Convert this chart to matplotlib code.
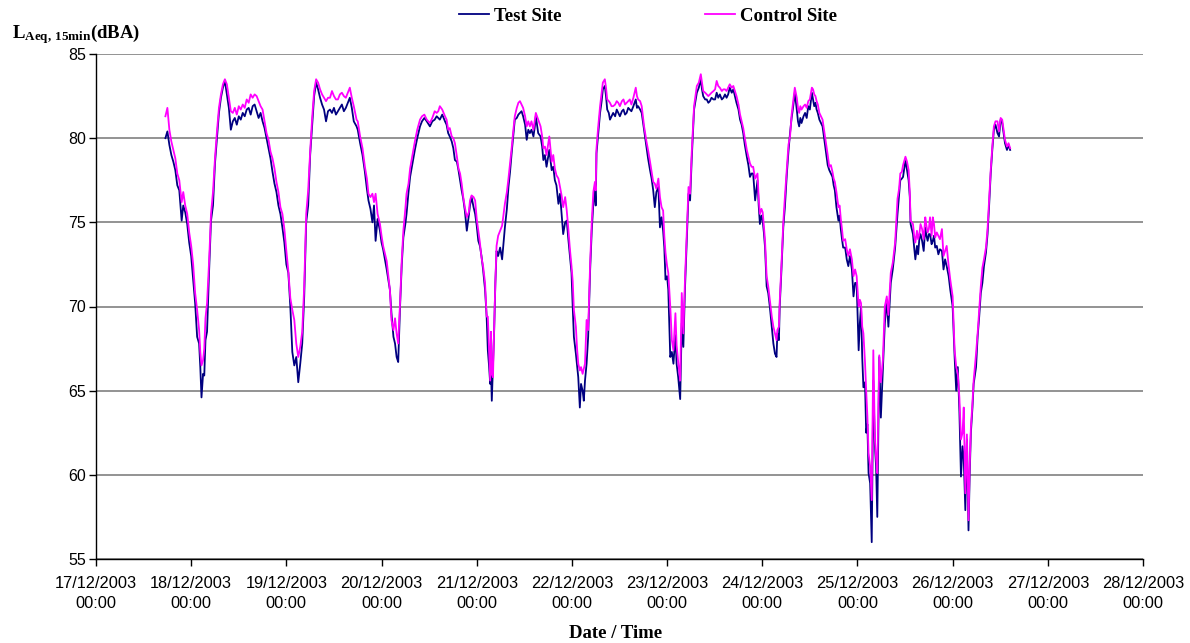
import matplotlib
matplotlib.use("Agg")
import matplotlib.pyplot as plt
import matplotlib.dates as mdates
from datetime import datetime, timedelta

# hours since 17/12/2003 00:00
hours = [
    17.5, 18.0, 18.5, 19.0, 19.5, 20.0, 20.5, 21.0, 21.6, 22.0, 22.5, 23.0, 23.5, 24.0, 24.5, 25.0, 25.5, 26.0, 26.3, 26.6,
    27.0, 27.3, 27.6, 28.0, 28.5, 29.0, 29.5, 30.0, 30.5, 31.0, 31.5, 32.0, 32.5, 33.0, 33.5, 34.0, 34.5, 35.0, 35.5, 36.0,
    36.5, 37.0, 37.5, 38.0, 38.5, 39.0, 39.5, 40.0, 40.5, 41.0, 41.5, 42.0, 42.5, 43.0, 43.5, 44.0, 44.5, 45.0, 45.5, 46.0,
    46.5, 47.0, 47.5, 48.0, 48.5, 49.0, 49.5, 50.0, 50.5, 51.0, 51.5, 52.0, 52.5, 53.0, 53.5, 54.0, 54.5, 55.0, 55.5, 56.0,
    56.5, 57.0, 57.5, 58.0, 58.5, 59.0, 59.5, 60.0, 60.5, 61.0, 61.5, 62.0, 62.5, 63.0, 63.5, 64.0, 64.5, 65.0, 65.7, 66.0,
    66.6, 67.2, 67.8, 68.3, 68.7, 69.2, 69.7, 70.1, 70.5, 71.0, 71.6, 72.0, 72.4, 73.3, 74.1, 74.5, 75.0, 75.4, 75.8, 76.2,
    76.7, 77.1, 77.5, 78.0, 78.3, 78.8, 79.2, 79.8, 80.4, 81.0, 81.7, 82.2, 82.8, 83.4, 84.2, 84.8, 85.4, 85.9, 86.3, 86.7,
    87.3, 88.0, 88.4, 88.8, 89.2, 89.7, 90.1, 90.5, 91.0, 91.4, 91.8, 92.2, 92.6, 93.0, 93.5, 94.0, 94.3, 94.7, 95.2, 95.6,
    96.0, 96.4, 96.8, 97.2, 97.6, 98.1, 98.5, 98.8, 99.1, 99.4, 99.6, 99.8, 100.1, 100.4, 100.7, 101.0, 101.4, 101.9, 102.4, 103.1,
    103.6, 104.0, 104.4, 104.8, 105.2, 105.6, 106.1, 106.5, 106.9, 107.3, 107.7, 108.2, 108.6, 109.0, 109.4, 109.8, 110.3, 110.6, 110.9, 111.2,
    111.5, 112.1, 112.5, 112.8, 113.2, 113.6, 114.3, 114.9, 115.3, 115.7, 116.1, 116.6, 117.0, 117.4, 117.8, 118.3, 118.7, 119.1, 119.5, 119.9,
    120.2, 120.5, 121.0, 121.3, 121.6, 122.0, 122.3, 122.7, 123.0, 123.3, 123.7, 124.1, 124.6, 125.0, 125.4, 125.8, 126.0, 126.2, 126.6, 127.1,
    127.5, 127.8, 128.3, 128.6, 128.9, 129.3, 129.6, 130.0, 130.4, 130.9, 131.3, 131.7, 132.1, 132.6, 133.0, 133.4, 133.8, 134.2, 134.6, 135.0,
    135.5, 136.1, 136.4, 136.7, 137.2, 137.6, 138.2, 138.8, 139.2, 139.7, 140.1, 140.5, 140.9, 141.3, 141.8, 142.2, 142.6, 143.0, 143.3, 143.6,
    144.0, 144.3, 144.8, 145.2, 145.6, 146.1, 146.4, 146.8, 147.3, 147.7, 148.1, 148.5, 148.9, 149.4, 149.8, 150.2, 150.8, 151.5, 152.0, 152.5,
    152.8, 153.1, 153.6, 154.0, 154.4, 154.8, 155.2, 155.7, 156.1, 156.5, 156.9, 157.3, 157.8, 158.2, 158.6, 159.0, 159.4, 159.8, 160.3, 160.7,
    161.1, 161.5, 162.0, 162.4, 162.8, 163.2, 163.6, 164.1, 164.5, 164.9, 165.3, 165.7, 166.2, 166.8, 167.1, 167.4, 167.8, 168.1, 168.4, 168.7,
    169.1, 169.5, 169.9, 170.4, 170.8, 171.2, 171.6, 171.8, 172.2, 172.4, 172.8, 173.3, 173.7, 174.2, 174.6, 175.0, 175.4, 175.7, 176.2, 176.7,
    177.0, 177.3, 177.6, 177.9, 178.4, 178.8, 179.2, 179.6, 180.0, 180.5, 180.8, 181.1, 181.4, 181.7, 182.0, 182.4, 182.8, 183.2, 183.7, 184.2,
    184.5, 184.9, 185.3, 185.7, 186.0, 186.3, 186.7, 187.2, 187.5, 187.8, 188.1, 188.4, 188.9, 189.3, 189.7, 190.1, 190.6, 191.0, 191.4, 191.8,
    192.3, 192.6, 192.9, 193.2, 193.5, 193.9, 194.2, 194.5, 194.8, 195.2, 195.6, 196.0, 196.4, 196.7, 197.0, 197.5, 197.9, 198.4, 198.9, 199.4,
    199.8, 200.4, 200.9, 201.5, 202.1, 202.5, 202.8, 203.2, 203.5, 204.1, 204.5, 204.9, 205.2, 205.4, 206.0, 206.3, 206.6, 207.0, 207.3, 207.6,
    207.9, 208.3, 208.7, 209.1, 209.4, 209.7, 210.0, 210.3, 210.7, 211.0, 211.3, 211.6, 212.0, 212.4, 212.8, 213.3, 213.7, 214.1, 214.5, 215.0,
    215.4, 216.0, 216.5, 216.9, 217.3, 217.7, 218.1, 218.5, 218.8, 219.2, 219.6, 220.0, 220.3, 220.6, 221.0, 221.3, 221.9, 222.3, 222.7, 223.1,
    223.5, 223.9, 224.4, 224.8, 225.2, 225.6, 226.0, 226.4, 226.8, 227.3, 227.7, 228.1, 228.5, 228.8, 229.2, 229.7, 230.1, 230.5,
]

test_site = [
    80.0, 80.4, 79.6, 79.0, 78.6, 78.1, 77.2, 76.9, 75.1, 76.0, 75.6, 74.9, 73.8, 73.0, 71.6, 70.2, 68.2, 67.8, 66.4, 64.6,
    66.0, 65.9, 68.0, 68.5, 72.0, 75.1, 76.0, 78.5, 80.0, 81.5, 82.4, 83.0, 83.4, 82.6, 81.8, 80.5, 81.0, 81.2, 80.8, 81.3,
    81.1, 81.5, 81.3, 81.7, 81.8, 81.4, 81.9, 82.0, 81.6, 81.2, 81.5, 81.0, 80.6, 80.0, 79.4, 78.8, 78.0, 77.3, 76.8, 76.0,
    75.5, 74.7, 73.8, 72.5, 72.0, 70.0, 67.3, 66.5, 67.0, 65.5, 66.6, 67.8, 70.6, 75.0, 76.0, 79.0, 80.8, 82.5, 83.3, 82.9,
    82.4, 82.0, 81.7, 81.0, 81.6, 81.7, 81.5, 81.8, 81.4, 81.6, 81.8, 82.0, 81.6, 81.8, 82.1, 82.4, 81.8, 81.0, 80.7, 80.5,
    79.7, 79.0, 78.0, 77.0, 76.3, 75.8, 75.0, 76.0, 73.9, 75.2, 74.5, 73.8, 73.4, 72.2, 71.0, 69.6, 68.2, 67.8, 67.0, 66.7,
    70.2, 72.5, 74.1, 74.9, 75.5, 76.8, 77.7, 78.5, 79.3, 80.0, 80.7, 81.0, 81.2, 81.0, 80.7, 81.0, 81.1, 81.3, 81.2, 81.1,
    81.4, 81.0, 80.8, 80.3, 80.1, 79.8, 79.4, 78.7, 78.6, 78.1, 77.5, 76.9, 76.4, 75.7, 74.5, 75.4, 76.0, 76.5, 75.9, 75.5,
    74.8, 73.9, 73.6, 73.0, 72.2, 71.0, 69.4, 67.4, 66.5, 65.4, 66.2, 64.4, 66.6, 68.6, 71.4, 73.3, 73.0, 73.5, 72.8, 74.7,
    75.8, 77.1, 78.0, 79.1, 80.1, 81.1, 81.2, 81.4, 81.5, 81.6, 81.3, 80.8, 79.9, 80.5, 80.3, 80.5, 80.1, 80.6, 81.3, 80.8,
    80.3, 80.1, 79.5, 78.7, 79.0, 78.3, 79.3, 78.1, 78.3, 77.5, 77.2, 76.1, 76.7, 75.5, 74.3, 75.0, 75.1, 74.0, 73.0, 72.0,
    70.0, 68.2, 67.2, 66.5, 65.8, 64.0, 65.4, 65.0, 64.4, 65.6, 66.6, 68.2, 72.2, 74.5, 76.1, 77.1, 76.0, 79.1, 80.2, 81.5,
    82.2, 82.9, 83.1, 82.5, 81.7, 81.5, 81.1, 81.3, 81.5, 81.3, 81.7, 81.5, 81.3, 81.6, 81.7, 81.4, 81.5, 81.8, 81.7, 81.6,
    81.9, 82.3, 81.8, 81.9, 81.7, 81.5, 80.5, 79.5, 78.8, 78.1, 77.6, 76.9, 75.9, 76.8, 77.1, 74.7, 75.3, 74.5, 73.5, 71.6,
    71.8, 71.0, 67.0, 67.3, 66.6, 68.3, 66.6, 65.8, 64.5, 69.0, 67.6, 71.0, 73.5, 76.7, 76.3, 78.7, 81.7, 82.7, 83.0, 83.5,
    82.9, 82.5, 82.3, 82.3, 82.1, 82.2, 82.4, 82.3, 82.3, 82.7, 82.4, 82.6, 82.3, 82.4, 82.6, 82.4, 82.6, 83.0, 82.7, 82.9,
    82.5, 82.1, 81.7, 81.1, 80.8, 80.3, 79.6, 78.9, 78.4, 77.7, 77.9, 77.9, 76.3, 77.5, 76.0, 74.9, 75.4, 75.1, 74.4, 73.5,
    71.2, 70.8, 70.0, 68.8, 67.8, 67.2, 67.0, 68.4, 68.0, 70.0, 72.0, 74.7, 75.9, 77.9, 79.2, 80.3, 81.2, 81.7, 82.7, 81.7,
    81.0, 80.7, 81.2, 80.9, 81.3, 81.5, 81.2, 81.9, 81.7, 82.7, 82.3, 81.9, 82.1, 81.7, 81.5, 81.1, 80.9, 80.7, 79.8, 78.9,
    78.4, 78.1, 77.9, 77.7, 77.2, 76.9, 75.9, 75.1, 75.4, 74.6, 74.0, 73.5, 73.5, 72.8, 72.4, 73.0, 72.2, 70.6, 71.4, 71.4,
    67.4, 69.0, 70.0, 67.0, 65.2, 65.5, 62.5, 63.0, 60.1, 59.5, 56.0, 65.6, 61.7, 60.5, 57.5, 67.0, 63.4, 66.2, 69.0, 70.4,
    68.8, 71.4, 72.2, 73.5, 75.5, 76.6, 77.5, 77.6, 77.7, 78.7, 78.1, 77.5, 76.5, 74.9, 74.3, 73.5, 72.8, 73.6, 73.1, 74.0,
    74.3, 73.9, 73.3, 74.7, 74.2, 73.9, 74.3, 74.3, 73.7, 73.9, 74.2, 73.5, 73.6, 73.1, 73.4, 73.3, 72.2, 72.8, 72.4, 71.8,
    71.0, 70.0, 67.0, 65.0, 66.4, 63.8, 59.9, 61.7, 61.0, 57.9, 62.1, 56.7, 60.0, 62.5, 64.0, 65.4, 66.4, 68.2, 69.4, 70.8,
    71.4, 72.4, 73.2, 74.3, 76.0, 77.9, 79.3, 80.5, 80.8, 80.3, 80.1, 81.1, 80.9, 80.4, 79.7, 79.3, 79.6, 79.3,
]

control_site = [
    81.3, 81.8, 80.5, 79.8, 79.3, 78.8, 77.9, 77.5, 76.2, 76.8, 76.0, 75.5, 74.4, 73.6, 72.5, 70.8, 69.8, 68.6, 67.3, 66.5,
    66.8, 67.5, 69.3, 70.2, 72.6, 75.5, 76.8, 78.8, 80.4, 81.8, 82.6, 83.2, 83.5, 83.2, 82.4, 81.6, 81.5, 81.8, 81.4, 81.9,
    81.7, 82.0, 81.8, 82.3, 82.1, 82.6, 82.4, 82.6, 82.5, 82.2, 81.9, 81.7, 81.0, 80.3, 79.9, 79.2, 78.8, 78.2, 77.4, 76.8,
    75.9, 75.5, 74.6, 73.3, 72.1, 70.5, 69.8, 69.2, 67.8, 67.0, 67.6, 68.5, 71.2, 75.5, 76.9, 79.2, 81.2, 82.8, 83.5, 83.3,
    82.9, 82.6, 82.4, 82.2, 82.4, 82.4, 82.8, 82.5, 82.3, 82.3, 82.6, 82.7, 82.5, 82.4, 82.7, 83.0, 82.4, 81.9, 81.1, 81.0,
    80.1, 79.4, 78.3, 77.6, 76.7, 76.5, 76.7, 76.2, 76.7, 75.5, 74.9, 74.2, 73.6, 72.7, 71.0, 69.2, 68.6, 69.3, 68.4, 67.8,
    70.4, 72.8, 74.5, 75.8, 76.7, 77.3, 78.2, 79.0, 79.8, 80.5, 81.1, 81.3, 81.4, 81.1, 80.9, 81.2, 81.6, 81.5, 81.6, 81.9,
    81.7, 81.3, 81.1, 80.5, 80.6, 80.1, 80.0, 79.7, 78.9, 78.2, 77.9, 77.3, 76.5, 75.9, 75.3, 75.6, 76.3, 76.6, 76.5, 76.3,
    75.2, 74.5, 73.8, 72.9, 72.4, 71.4, 69.4, 69.4, 67.5, 65.6, 68.5, 66.0, 65.8, 68.8, 71.5, 73.6, 74.2, 74.5, 74.8, 76.1,
    76.8, 77.6, 78.5, 79.4, 80.4, 81.3, 81.8, 82.1, 82.2, 82.0, 81.8, 81.3, 80.7, 81.0, 80.7, 81.0, 80.5, 81.0, 81.5, 81.3,
    81.1, 80.7, 80.1, 79.4, 79.5, 79.0, 80.1, 78.6, 79.0, 78.2, 77.8, 77.6, 77.1, 76.6, 75.9, 76.5, 75.7, 74.6, 73.4, 72.4,
    71.5, 69.8, 68.8, 67.5, 66.6, 66.2, 66.4, 66.0, 66.3, 66.6, 69.2, 68.6, 72.6, 75.0, 76.8, 77.4, 76.9, 79.4, 80.6, 81.9,
    82.7, 83.3, 83.5, 83.0, 82.3, 82.2, 82.1, 81.9, 81.9, 82.0, 82.2, 82.1, 81.9, 82.2, 82.3, 82.0, 82.1, 82.2, 82.3, 82.0,
    82.4, 83.0, 82.5, 82.3, 82.2, 81.9, 80.7, 79.8, 79.3, 78.6, 78.0, 77.4, 77.3, 77.0, 77.6, 76.5, 75.9, 75.7, 74.2, 73.2,
    72.4, 72.0, 70.0, 68.0, 67.4, 69.6, 67.7, 66.7, 65.6, 70.8, 68.4, 71.5, 74.0, 77.1, 76.7, 79.1, 81.9, 83.1, 83.3, 83.8,
    83.3, 82.8, 82.7, 82.6, 82.5, 82.6, 82.7, 82.8, 82.9, 83.4, 83.1, 83.0, 82.8, 82.9, 82.9, 82.8, 83.0, 83.2, 83.0, 83.1,
    82.8, 82.5, 82.0, 81.4, 81.0, 80.6, 80.0, 79.3, 78.9, 78.5, 78.3, 78.3, 77.6, 77.9, 76.4, 75.5, 75.8, 75.6, 74.8, 73.9,
    71.8, 71.2, 70.4, 69.4, 68.8, 68.4, 68.0, 68.6, 68.8, 70.3, 72.3, 75.0, 76.5, 78.2, 79.6, 80.1, 81.4, 82.0, 83.0, 82.4,
    81.8, 81.5, 81.9, 81.7, 81.9, 82.0, 81.8, 82.2, 82.3, 83.0, 82.9, 82.6, 82.5, 82.2, 82.0, 81.5, 81.3, 81.1, 80.3, 79.5,
    79.0, 78.3, 78.4, 78.0, 77.6, 77.4, 76.8, 75.9, 76.0, 75.2, 74.6, 73.9, 74.0, 73.4, 73.0, 73.4, 72.8, 71.8, 72.2, 71.8,
    70.0, 70.4, 70.2, 68.8, 68.4, 66.7, 65.0, 63.5, 61.3, 60.5, 58.5, 67.4, 62.1, 61.0, 60.1, 67.1, 65.5, 66.8, 70.0, 70.6,
    69.5, 72.0, 72.6, 73.8, 76.4, 77.0, 77.9, 78.0, 78.4, 78.9, 78.6, 78.1, 76.8, 75.1, 74.9, 74.2, 73.8, 74.5, 74.0, 74.3,
    74.9, 74.6, 74.0, 75.3, 74.8, 74.4, 74.6, 75.3, 74.2, 75.3, 74.9, 74.1, 74.4, 74.2, 74.0, 74.6, 73.0, 73.3, 73.6, 72.4,
    71.6, 70.6, 67.4, 66.4, 66.0, 64.6, 62.1, 62.5, 64.0, 58.9, 62.4, 57.3, 60.5, 62.8, 64.3, 65.6, 67.2, 68.4, 69.8, 71.2,
    72.3, 72.8, 73.5, 74.6, 76.3, 78.1, 79.5, 80.7, 81.0, 81.0, 80.4, 81.2, 81.1, 80.6, 79.9, 79.5, 79.7, 79.4,
]

series_names = ["Test Site", "Control Site"]
y_ticks = [55, 60, 65, 70, 75, 80, 85]
start = datetime(2003, 12, 17)
day_ticks = [start + timedelta(days=d) for d in range(12)]

times = [start + timedelta(hours=h) for h in hours]

plt.rcParams['mathtext.fontset'] = 'custom'
plt.rcParams['mathtext.rm'] = 'Liberation Serif:bold'
plt.rcParams['mathtext.bf'] = 'Liberation Serif:bold'
plt.rcParams['mathtext.it'] = 'Liberation Serif:bold'

fig = plt.figure(figsize=(11.9, 6.43), dpi=100)
ax = fig.add_axes([96/1190, 1 - 559/643, (1143-96)/1190, (559-54)/643])

ax.plot(times, test_site, color='#000080', lw=1.3, label=series_names[0], zorder=3)
ax.plot(times, control_site, color='#FF00FF', lw=1.3, label=series_names[1], zorder=4)

ax.set_xlim(day_ticks[0], day_ticks[-1])
ax.set_ylim(55, 85)
ax.set_yticks(y_ticks)
ax.set_xticks(day_ticks)
ax.xaxis.set_major_formatter(mdates.DateFormatter('%d/%m/%Y\n%H:%M'))
ax.yaxis.grid(True, color='#808080', lw=1.2)
ax.set_axisbelow(True)
for s in ['top', 'right']:
    ax.spines[s].set_visible(False)
for s in ['left', 'bottom']:
    ax.spines[s].set_color('black')
    ax.spines[s].set_linewidth(1.0)
ax.tick_params(axis='both', direction='out', length=5, width=1, color='black',
               labelcolor='black')
ax.tick_params(axis='x', pad=7, labelsize=11.8)
ax.tick_params(axis='y', pad=2, labelsize=11.5)
for lab in ax.get_xticklabels():
    lab.set_fontfamily('Liberation Sans')
    lab.set_linespacing(1.45)
for lab in ax.get_yticklabels():
    lab.set_fontfamily('Liberation Sans')

fig.text(616/1190, 1 - 633/643, 'Date / Time', ha='center', va='center',
         family='Liberation Serif', weight='bold', fontsize=13.5)
fig.text(12/1190, 1 - 38/643, r'$\mathrm{L_{Aeq,\,15min}(dBA)}$', ha='left', va='baseline',
         fontsize=13.5)

leg = fig.legend(loc='center', bbox_to_anchor=(648/1190, 1 - 16/643), ncol=2, frameon=False,
                 prop={'family': 'Liberation Serif', 'weight': 'bold', 'size': 13.5},
                 handlelength=1.6, handletextpad=0.32, columnspacing=7.6)

fig.savefig('out.png', dpi=100)
